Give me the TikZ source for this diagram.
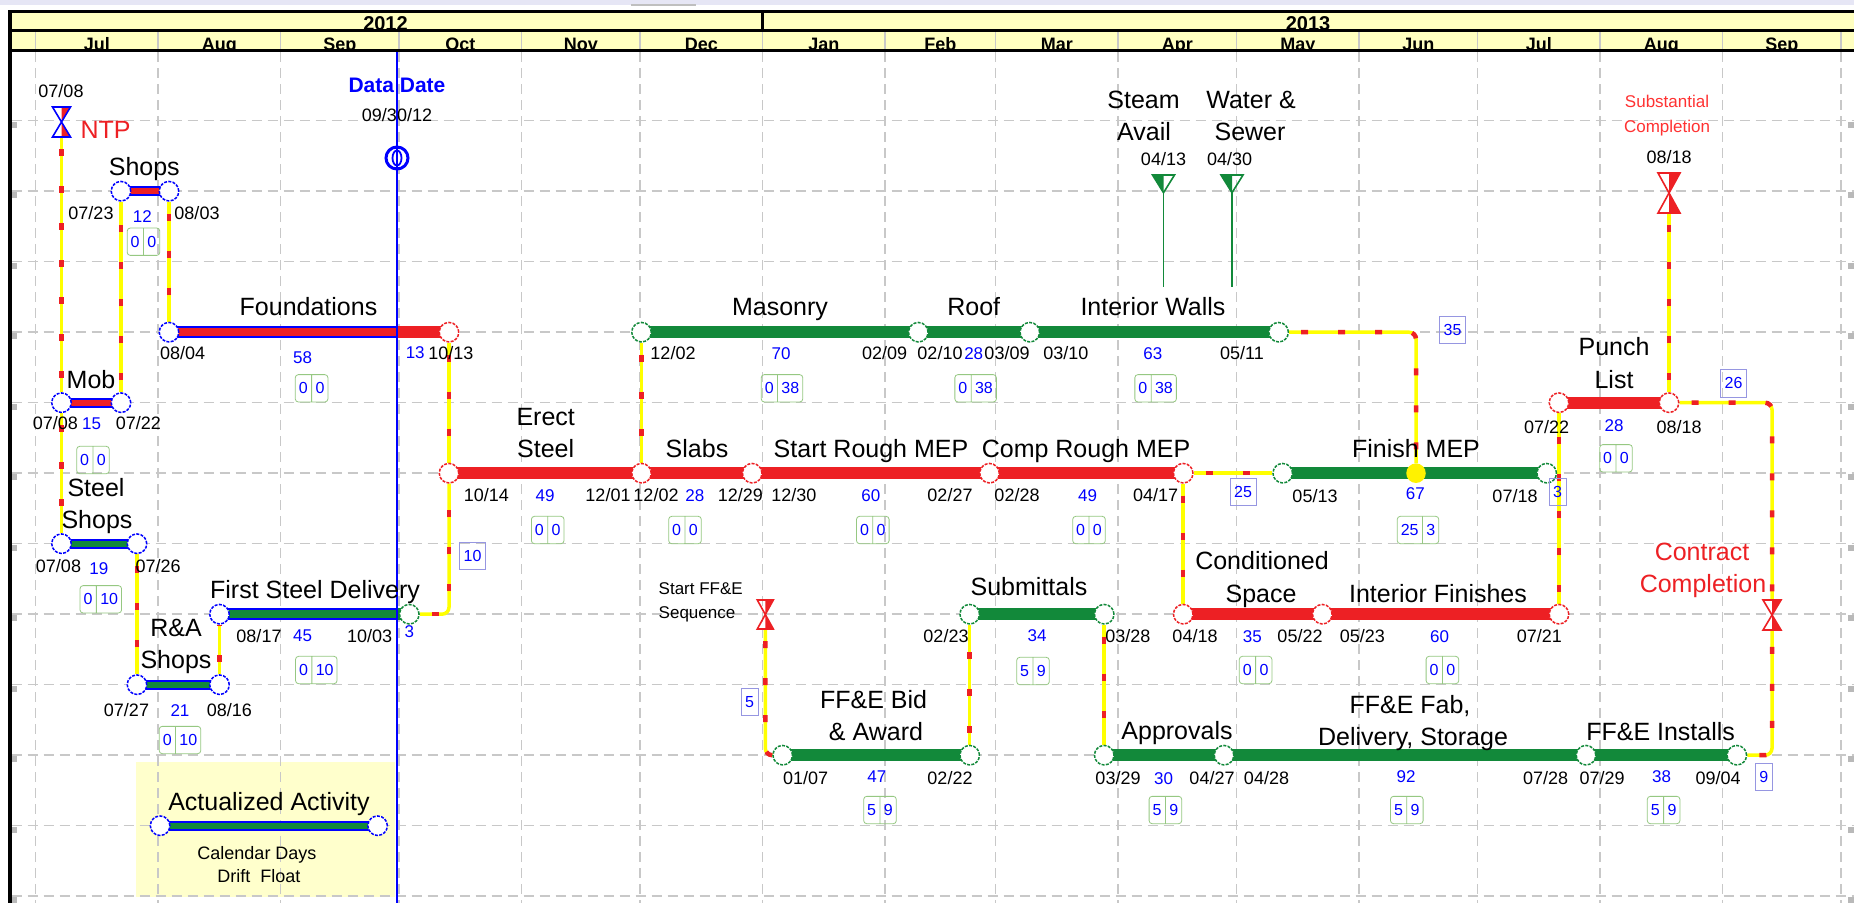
\documentclass[tikz,border=0pt]{standalone}
\usepackage{fontspec}
\setmainfont{Liberation Sans}
\usetikzlibrary{shapes.multipart}
\pgfdeclarelayer{bg}
\pgfdeclarelayer{mid}
\pgfsetlayers{bg,mid,main}
\definecolor{bred}{RGB}{237,32,36}
\definecolor{mred}{RGB}{255,50,50}
\definecolor{bgreen}{RGB}{18,137,58}
\definecolor{dblue}{RGB}{0,0,255}
\definecolor{hdr}{RGB}{255,255,192}
\definecolor{lgnd}{RGB}{255,255,204}
\definecolor{gridc}{RGB}{200,200,200}
\definecolor{fgrn}{RGB}{150,200,130}
\definecolor{lav}{RGB}{150,150,225}
\definecolor{cyel}{RGB}{255,255,0}
\definecolor{strip}{RGB}{230,230,245}
\tikzset{
 lbl/.style={inner sep=0, font=\fontsize{25}{30}\selectfont, text height=17.9pt, text depth=0pt},
 dt/.style={inner sep=0, font=\fontsize{18}{20}\selectfont, text height=12.9pt, text depth=0pt},
 num/.style={inner sep=0, text=dblue, font=\fontsize{17}{20}\selectfont, text height=12.2pt, text depth=0pt},
 sml/.style={inner sep=0, font=\fontsize{17}{20}\selectfont, text height=12.2pt, text depth=0pt},
 hdrM/.style={inner sep=0, font=\fontsize{18}{20}\selectfont\bfseries},
 hdrY/.style={inner sep=0, font=\fontsize{20}{22}\selectfont\bfseries},
 flt/.style={rectangle split, rectangle split horizontal, rectangle split parts=2, draw=fgrn, line width=0.8pt, rounded corners=3pt, inner xsep=3.5pt, inner ysep=8pt, text=dblue, font=\fontsize{16}{16}\selectfont},
 lag/.style={draw=lav, line width=0.8pt, text=dblue, font=\fontsize{16}{16}\selectfont, inner xsep=4pt, inner ysep=8pt},
 ev/.style={circle, minimum size=19.5pt, inner sep=0, fill=white, line width=1.5pt, dash pattern=on 3pt off 1.3pt},
 evB/.style={ev, draw=dblue},
 evR/.style={ev, draw=bred},
 evG/.style={ev, draw=bgreen},
 evY/.style={circle, minimum size=19.5pt, inner sep=0, fill=yellow},
 conn/.style={draw=cyel, line width=3.5pt, rounded corners=7pt, postaction={draw=bred, line width=4.5pt, dash pattern=on 7pt off 30pt, dash phase=-12pt}},
 gridl/.style={draw=gridc, line width=1.5pt, dash pattern=on 10pt off 6pt},
 pics/hg/.style n args={4}{code={
   \fill[#2] (0,0) -- (0,-#4) -- (#3,-#4) -- cycle;
   \fill[#2] (0,0) -- (0,#4) -- (#3,#4) -- cycle;
   \draw[#1, line width=1.6pt, line join=miter] (-#3,-#4) -- (#3,-#4) -- (-#3,#4) -- (#3,#4) -- cycle;
 }},
 pics/tri/.style n args={3}{code={
   \fill[#1] (0,0) -- (-#2,-#3) -- (0,-#3) -- cycle;
   \draw[#1, line width=1.6pt] (0,0) -- (-#2,-#3) -- (#2,-#3) -- cycle;
 }}
}
\begin{document}
\begin{tikzpicture}[x=1pt,y=-1pt]
\useasboundingbox (0,0) rectangle (1854,903);

% ---------- background and grid
\begin{pgfonlayer}{bg}
\fill[white] (0,0) rectangle (1854,903);
\fill[strip] (0,0) rectangle (1854,5);
\draw[gray!50, line width=1.5pt] (631,5) -- (696,5);
\fill[lgnd] (136.4,761.7) rectangle (395.4,896.7);
\foreach \x in {35.6,158.1,280.5,399,521.5,640,762.5,885,995.6,1118,1236.6,1359,1477.6,1600,1722.5,1841}
  \draw[gridl] (\x,52) -- (\x,903);
\foreach \y in {120.7,191.2,261.7,332.2,402.7,473.2,543.7,614.2,684.7,755.2,825.7,896.2} {
  \draw[gridl] (11.5,\y) -- (1854,\y);
  \fill[gray!55] (11.5,\y+1) rectangle (17,\y+7);
  \fill[gray!55] (1848,\y+1) rectangle (1854,\y+7);
}
\end{pgfonlayer}

% ---------- header
\fill[hdr] (9.5,11.7) rectangle (1854,50.3);
\begin{scope}
\clip (9.5,11.7) rectangle (1854,50.3);
\node[hdrY, anchor=base] (y2012) at (385.5,30.3) {2012};
\node[hdrY, anchor=base] (y2013) at (1308,30.3) {2013};
\foreach \m/\c [count=\i] in {Jul/96.9,Aug/219.3,Sep/339.8,Oct/460.3,Nov/580.8,Dec/701.3,Jan/823.8,Feb/940.3,Mar/1056.8,Apr/1177.3,May/1297.8,Jun/1418.3,Jul/1538.8,Aug/1661.3,Sep/1781.8}
  \node[hdrM, anchor=base] (m\i) at (\c,50) {\m};
\end{scope}
\foreach \x in {35.6,158.1,280.5,399,521.5,640,762.5,885,995.6,1118,1236.6,1359,1477.6,1600,1722.5,1841}
  \draw[gridc, line width=1.5pt] (\x,30.8) -- (\x,50.3);
\draw[line width=3pt] (9.5,11.7) -- (1854,11.7);
\draw[line width=3pt] (9.5,30.8) -- (1854,30.8);
\draw[line width=3.5pt] (9.5,50.3) -- (1854,50.3);
\draw[line width=2.5pt] (762.5,11.7) -- (762.5,30.8);
\draw[line width=4pt] (9.5,10) -- (9.5,903);

% ---------- activity nodes
\node[evB] (shopS) at (121,191.2) {};
\node[evB] (shopE) at (169,191.2) {};
\node[evB] (fndS) at (169,332.2) {};
\node[evR] (fndE) at (449,332.2) {};
\node[evB] (mobS) at (61.5,402.7) {};
\node[evB] (mobE) at (121,402.7) {};
\node[evB] (sshS) at (61.5,543.7) {};
\node[evB] (sshE) at (137,543.7) {};
\node[evB] (raS) at (137,684.7) {};
\node[evB] (raE) at (219.5,684.7) {};
\node[evB] (fsdS) at (219.5,614.2) {};
\node[evG] (fsdE) at (409.3,614.2) {};
\node[evR] (esS) at (449,473.2) {};
\node[evR] (slS) at (641.5,473.2) {};
\node[evR] (rmS) at (752.2,473.2) {};
\node[evR] (cmS) at (989.5,473.2) {};
\node[evR] (cmE) at (1183.2,473.2) {};
\node[evG] (masS) at (641.5,332.2) {};
\node[evG] (roofS) at (918.3,332.2) {};
\node[evG] (iwS) at (1029.8,332.2) {};
\node[evG] (iwE) at (1278.6,332.2) {};
\node[evG] (fmS) at (1282.7,473.2) {};
\node[evY] (fmY) at (1416,473.2) {};
\node[evG] (fmE) at (1546.7,473.2) {};
\node[evR] (plS) at (1559,402.7) {};
\node[evR] (plE) at (1669,402.7) {};
\node[evR] (csS) at (1183.2,614.2) {};
\node[evR] (ifS) at (1322.3,614.2) {};
\node[evR] (ifE) at (1559,614.2) {};
\node[evG] (subS) at (969.7,614.2) {};
\node[evG] (subE) at (1104.2,614.2) {};
\node[evG] (fbS) at (782.7,755.2) {};
\node[evG] (fbE) at (969.7,755.2) {};
\node[evG] (apS) at (1104.2,755.2) {};
\node[evG] (fabS) at (1224,755.2) {};
\node[evG] (fiS) at (1586,755.2) {};
\node[evG] (fiE) at (1736.8,755.2) {};
\node[evB] (legS) at (160.1,825.7) {};
\node[evB] (legE) at (377.6,825.7) {};

% ---------- milestones
\pic at (61.5,122) {hg={dblue}{bred}{9}{15}};
\pic at (1669,193) {hg={bred}{bred}{11}{20}};
\pic at (1772,615) {hg={bred}{bred}{9}{15}};
\pic at (765.3,614.5) {hg={bred}{bred}{8}{14.5}};
\pic at (1163.5,192.7) {tri={bgreen}{11}{17.7}};
\pic at (1232,192.7) {tri={bgreen}{11}{17.7}};
\coordinate (ntpB) at (61.5,137);
\coordinate (scB) at (1669,213);
\coordinate (ccT) at (1772,600);
\coordinate (ccB) at (1772,630);
\coordinate (sffB) at (765.3,629);
\coordinate (stB) at (1163.5,193);
\coordinate (stE) at (1163.5,287);
\coordinate (wsB) at (1232,193);
\coordinate (wsE) at (1232,287);

% ---------- connectors and bars
\begin{pgfonlayer}{mid}
\draw[conn] (ntpB) -- (mobS);
\draw[conn] (mobS) -- (sshS);
\draw[conn] (mobE) -- (shopS);
\draw[conn] (shopE) -- (fndS);
\draw[conn] (fndE) -- (esS);
\draw[conn] (sshE) -- (raS);
\draw[conn] (raE) -- (fsdS);
\draw[conn] (fsdE) -| (esS);
\draw[conn] (masS) -- (slS);
\draw[conn] (cmE) -- (fmS);
\draw[conn] (cmE) -- (csS);
\draw[conn] (iwE) -| (fmY);
\draw[conn] (ifE) -- (plS);
\draw[conn] (plE) -- (scB);
\draw[conn] (plE) -| (ccT);
\draw[conn] (fiE) -| (ccB);
\draw[conn] (sffB) |- (fbS);
\draw[conn] (fbE) -- (subS);
\draw[conn] (subE) -- (apS);
\draw[bgreen, line width=1.5pt] (stB) -- (stE);
\draw[bgreen, line width=1.5pt] (wsB) -- (wsE);
% actualized bars
\draw[line width=10pt, dblue] (shopS.center) -- (shopE.center);
\draw[line width=6pt, bred] (shopS.center) -- (shopE.center);
\draw[line width=10pt, dblue] (mobS.center) -- (mobE.center);
\draw[line width=6pt, bred] (mobS.center) -- (mobE.center);
\draw[line width=10pt, dblue] (sshS.center) -- (sshE.center);
\draw[line width=6pt, bgreen] (sshS.center) -- (sshE.center);
\draw[line width=10pt, dblue] (raS.center) -- (raE.center);
\draw[line width=6pt, bgreen] (raS.center) -- (raE.center);
\draw[line width=10pt, dblue] (legS.center) -- (legE.center);
\draw[line width=6pt, bgreen] (legS.center) -- (legE.center);
\draw[line width=12.5pt, dblue] (fndS.center) -- (397,332.2);
\draw[line width=8.5pt, bred] (fndS.center) -- (397,332.2);
\draw[line width=12.5pt, bred] (397,332.2) -- (fndE.center);
\draw[line width=12.5pt, dblue] (fsdS.center) -- (397,614.2);
\draw[line width=8.5pt, bgreen] (fsdS.center) -- (397,614.2);
\draw[line width=12.5pt, bgreen] (397,614.2) -- (fsdE.center);
% planned bars
\draw[line width=12pt, bred] (esS.center) -- (cmE.center);
\draw[line width=12pt, bgreen] (masS.center) -- (iwE.center);
\draw[line width=12pt, bgreen] (fmS.center) -- (fmE.center);
\draw[line width=12pt, bred] (plS.center) -- (plE.center);
\draw[line width=12pt, bred] (csS.center) -- (ifE.center);
\draw[line width=12pt, bgreen] (subS.center) -- (subE.center);
\draw[line width=12pt, bgreen] (fbS.center) -- (fbE.center);
\draw[line width=12pt, bgreen] (apS.center) -- (fiE.center);
% data date
\draw[dblue, line width=1.6pt] (397,51) -- (397,903);
\end{pgfonlayer}

\draw[dblue, line width=3pt, fill=white] (397,158) circle (11pt);
\draw[dblue, line width=1.8pt] (397,158) ellipse (4.5pt and 7.5pt);
\draw[dblue, line width=1.6pt] (397,147) -- (397,169);
\node[inner sep=0, text=dblue, font=\fontsize{21}{24}\selectfont\bfseries, text height=15pt, text depth=0pt] (ddl) at (397,85) {Data Date};
\node[dt] (ddd) at (397,115) {09/30/12};

% ---------- activity labels
\node[lbl] (lShops) at (144.3,166.7) {Shops};
\node[lbl] (lFnd) at (308.5,306.7) {Foundations};
\node[lbl] (lMob) at (91,379.3) {Mob};
\node[lbl] (lSS1) at (96,487.3) {Steel};
\node[lbl] (lSS2) at (97,520) {Shops};
\node[lbl] (lRA1) at (176,627.3) {R\&A};
\node[lbl] (lRA2) at (176,660) {Shops};
\node[lbl] (lFSD) at (315,590) {First Steel Delivery};
\node[lbl] (lES1) at (545.7,416.7) {Erect};
\node[lbl] (lES2) at (545.7,448.3) {Steel};
\node[lbl] (lMas) at (780,306.7) {Masonry};
\node[lbl] (lRoof) at (973.7,306.7) {Roof};
\node[lbl] (lIW) at (1153,306.7) {Interior Walls};
\node[lbl] (lSl) at (697,448.3) {Slabs};
\node[lbl] (lSRM) at (871,448.3) {Start Rough MEP};
\node[lbl] (lCRM) at (1086,448.3) {Comp Rough MEP};
\node[lbl] (lFM) at (1416,448.3) {Finish MEP};
\node[lbl] (lPL1) at (1614,346.7) {Punch};
\node[lbl] (lPL2) at (1614,379.3) {List};
\node[lbl] (lCS1) at (1262,560.5) {Conditioned};
\node[lbl] (lCS2) at (1261,593.6) {Space};
\node[lbl] (lIF) at (1438,593.3) {Interior Finishes};
\node[lbl] (lSub) at (1029,586.7) {Submittals};
\node[lbl] (lFB1) at (873.5,700) {FF\&E Bid};
\node[lbl] (lFB2) at (876,731.7) {\& Award};
\node[lbl] (lAp) at (1177,730.7) {Approvals};
\node[lbl] (lFab1) at (1410,705) {FF\&E Fab,};
\node[lbl] (lFab2) at (1413,736.7) {Delivery, Storage};
\node[lbl] (lFI) at (1660.6,731.7) {FF\&E Installs};
\node[lbl] (lSt1) at (1143.5,100) {Steam};
\node[lbl] (lSt2) at (1144,131.7) {Avail};
\node[lbl] (lWS1) at (1251,100) {Water \&};
\node[lbl] (lWS2) at (1250,131.7) {Sewer};
\node[lbl] (lLeg) at (269,801.7) {Actualized Activity};
\node[lbl, text=bred] (lNTP) at (105.5,130) {NTP};
\node[lbl, text=bred] (lCC1) at (1702,551.7) {Contract};
\node[lbl, text=bred] (lCC2) at (1703,583.3) {Completion};
\node[sml, text=mred] (lSC1) at (1667,101.7) {Substantial};
\node[sml, text=mred] (lSC2) at (1667,126) {Completion};
\node[sml, anchor=west] (lSF1) at (658.5,588.3) {Start FF\&E};
\node[sml, anchor=west] (lSF2) at (658.5,612.7) {Sequence};
\node[dt] (lCal) at (257,853.3) {Calendar Days};
\node[dt] (lDF) at (259,876) {Drift~~Float};

% ---------- dates
\node[dt] (d01) at (61,90.7) {07/08};
\node[dt] (d02) at (91,213) {07/23};
\node[dt] (d03) at (197,213) {08/03};
\node[dt] (d04) at (182.7,353.3) {08/04};
\node[dt] (d05) at (450.8,353.3) {10/13};
\node[dt] (d06) at (55.4,423.3) {07/08};
\node[dt] (d07) at (138.4,423.3) {07/22};
\node[dt] (d08) at (58.5,566) {07/08};
\node[dt] (d09) at (158.2,566) {07/26};
\node[dt] (d10) at (126.5,710) {07/27};
\node[dt] (d11) at (229.3,710) {08/16};
\node[dt] (d12) at (259,635.7) {08/17};
\node[dt] (d13) at (369.7,635.7) {10/03};
\node[dt] (d14) at (486.4,495) {10/14};
\node[dt] (d15) at (608,495) {12/01};
\node[dt] (d16) at (656,495) {12/02};
\node[dt] (d17) at (740.4,495) {12/29};
\node[dt] (d18) at (793.8,495) {12/30};
\node[dt] (d19) at (950,495) {02/27};
\node[dt] (d20) at (1017,495) {02/28};
\node[dt] (d21) at (1155.6,495) {04/17};
\node[dt] (d22) at (673,353.3) {12/02};
\node[dt] (d23) at (884.7,353.3) {02/09};
\node[dt] (d24) at (940,353.3) {02/10};
\node[dt] (d25) at (1007,353.3) {03/09};
\node[dt] (d26) at (1065.8,353.3) {03/10};
\node[dt] (d27) at (1242,353.3) {05/11};
\node[dt] (d28) at (1315,496) {05/13};
\node[dt] (d29) at (1515,496) {07/18};
\node[dt] (d30) at (1546.7,426.7) {07/22};
\node[dt] (d31) at (1679,427) {08/18};
\node[dt] (d32) at (1195,636) {04/18};
\node[dt] (d33) at (1300,636) {05/22};
\node[dt] (d34) at (1362.3,636) {05/23};
\node[dt] (d35) at (1539.4,636) {07/21};
\node[dt] (d36) at (946,636) {02/23};
\node[dt] (d37) at (1127.9,636) {03/28};
\node[dt] (d38) at (805.6,778.3) {01/07};
\node[dt] (d39) at (950,778.3) {02/22};
\node[dt] (d40) at (1118,778.3) {03/29};
\node[dt] (d41) at (1212,778.3) {04/27};
\node[dt] (d42) at (1266.5,778.3) {04/28};
\node[dt] (d43) at (1545.5,778.3) {07/28};
\node[dt] (d44) at (1602,778.3) {07/29};
\node[dt] (d45) at (1718.2,778.3) {09/04};
\node[dt] (d46) at (1163.5,159.3) {04/13};
\node[dt] (d47) at (1229.7,159.3) {04/30};
\node[dt] (d48) at (1669,157.3) {08/18};

% ---------- durations
\node[num] (n01) at (142.3,216) {12};
\node[num] (n02) at (302.5,357.3) {58};
\node[num] (n03) at (415.2,352) {13};
\node[num] (n04) at (91.7,423.3) {15};
\node[num] (n05) at (98.9,568) {19};
\node[num] (n06) at (180,710) {21};
\node[num] (n07) at (302.5,635.7) {45};
\node[num] (n08) at (409.3,631.7) {3};
\node[num] (n09) at (545,495) {49};
\node[num] (n10) at (694.9,495) {28};
\node[num] (n11) at (870.9,495) {60};
\node[num] (n12) at (1087.5,495) {49};
\node[num] (n13) at (781,353) {70};
\node[num] (n14) at (973.7,353) {28};
\node[num] (n15) at (1152.8,353) {63};
\node[num] (n16) at (1415.3,493) {67};
\node[num] (n17) at (1614,425) {28};
\node[num] (n18) at (1252.3,636) {35};
\node[num] (n19) at (1439.6,636) {60};
\node[num] (n20) at (1037,635) {34};
\node[num] (n21) at (876.8,776) {47};
\node[num] (n22) at (1163.5,778.3) {30};
\node[num] (n23) at (1406,776) {92};
\node[num] (n24) at (1661.6,776) {38};

% ---------- drift / float boxes
\node[flt] (f01) at (143.5,241.7) {0\nodepart{two}0};
\node[flt] (f02) at (311.6,388.3) {0\nodepart{two}0};
\node[flt] (f03) at (93,460) {0\nodepart{two}0};
\node[flt] (f04) at (100.8,599.3) {0\nodepart{two}10};
\node[flt] (f05) at (180,740) {0\nodepart{two}10};
\node[flt] (f06) at (316.3,670) {0\nodepart{two}10};
\node[flt] (f07) at (547.7,530) {0\nodepart{two}0};
\node[flt] (f08) at (685,530) {0\nodepart{two}0};
\node[flt] (f09) at (872.8,530) {0\nodepart{two}0};
\node[flt] (f10) at (1089,530) {0\nodepart{two}0};
\node[flt] (f11) at (782,388.3) {0\nodepart{two}38};
\node[flt] (f12) at (975.6,388.3) {0\nodepart{two}38};
\node[flt] (f13) at (1155.6,388.3) {0\nodepart{two}38};
\node[flt] (f14) at (1418,530) {25\nodepart{two}3};
\node[flt] (f15) at (1616,458.3) {0\nodepart{two}0};
\node[flt] (f16) at (1255.6,670) {0\nodepart{two}0};
\node[flt] (f17) at (1442.4,670) {0\nodepart{two}0};
\node[flt] (f18) at (1033,671) {5\nodepart{two}9};
\node[flt] (f19) at (880,810) {5\nodepart{two}9};
\node[flt] (f20) at (1165.4,810) {5\nodepart{two}9};
\node[flt] (f21) at (1406.8,810) {5\nodepart{two}9};
\node[flt] (f22) at (1663.6,810) {5\nodepart{two}9};

% ---------- lag boxes
\node[lag] (g01) at (472.5,556) {10};
\node[lag] (g02) at (1452.5,330) {35};
\node[lag] (g03) at (1243,491.7) {25};
\node[lag] (g04) at (1557.6,492) {3};
\node[lag] (g05) at (1733.5,383.3) {26};
\node[lag] (g06) at (749.5,701.7) {5};
\node[lag] (g07) at (1763.9,776.7) {9};
\end{tikzpicture}
\end{document}
